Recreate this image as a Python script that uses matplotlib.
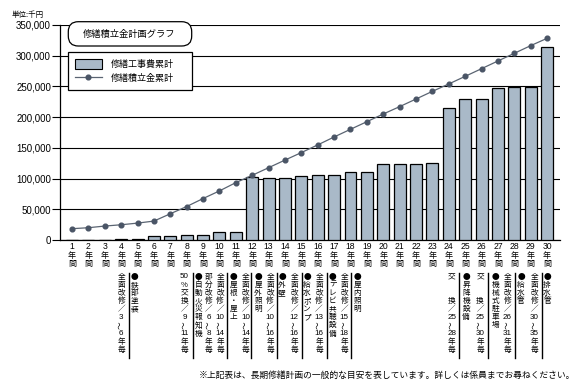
import matplotlib
matplotlib.use("Agg")
import matplotlib.pyplot as plt
from matplotlib.patches import FancyBboxPatch, Patch
from matplotlib.lines import Line2D
from matplotlib import transforms

plt.rcParams['font.family'] = ['Noto Sans CJK JP', 'DejaVu Sans']

# ---------------- data ----------------
years = list(range(1, 31))
repair_cumulative = [0, 0, 0, 1000, 1500, 6000, 6000, 7600, 7600, 13000,
                     13000, 102000, 101500, 101500, 103400, 105300, 105300, 110200, 110200, 123200,
                     123200, 123200, 124800, 214300, 229000, 229000, 246900, 248500, 248500, 313600]
reserve_cumulative = [18400, 20000, 22700, 24800, 27500, 30800, 42700, 54500, 67500, 79900,
                      93400, 105300, 117700, 130100, 142300, 154800, 167700, 180200, 192600, 205100,
                      217100, 229500, 242000, 254000, 266400, 278900, 291400, 303900, 316400, 328300]
yticks = [0, 50000, 100000, 150000, 200000, 250000, 300000, 350000]
title_text = "修繕積立金計画グラフ"
legend_labels = ["修繕工事費累計", "修繕積立金累計"]
unit_text = "単位:千円"
year_suffix = ["年", "間"]
note_text = "※上記表は、長期修繕計画の一般的な目安を表しています。詳しくは係員までお尋ねください。"

annotation_texts = ["全面改修／3〜6年毎", "●鉄部塗装", "50%交換／9〜11年毎", "●自動火災報知機",
                    "部分改修／6〜8年毎", "全面改修／10〜14年毎", "●屋根・屋上", "全面改修／10〜14年毎",
                    "●屋外照明", "全面改修／10〜16年毎", "●外壁", "全面改修／12〜16年毎",
                    "●給水ポンプ", "全面改修／13〜16年毎", "●テレビ共聴設備", "全面改修／15〜18年毎",
                    "●屋内照明", "交　　換／25〜28年毎", "●昇降機設備", "交　　換／25〜30年毎",
                    "●機械式駐車場", "全面改修／26〜31年毎", "●給水管", "全面改修／30〜35年毎", "●排水管"]
annotation_x = [4.0, 4.82, 7.86, 8.73, 9.33, 10.04, 10.87, 11.60, 12.36, 13.09, 13.82, 14.57,
                15.35, 16.08, 16.91, 17.62, 18.40, 24.18, 25.06, 25.91, 26.84, 27.57, 28.41,
                29.22, 30.0]
divider_x = [4.46, 8.37, 10.48, 11.93, 13.50, 15.02, 16.55, 18.01, 24.65, 26.42, 28.05, 29.68]

# ---------------- layout ----------------
W, H = 588, 391
fig = plt.figure(figsize=(W / 100, H / 100), dpi=100)
fig.patch.set_facecolor("white")

def fy(py):
    return 1 - py / H

ax = fig.add_axes([60 / W, fy(240), 500 / W, 215 / H])
bar_color = "#A9B9C8"
line_color = "#5A6472"
dot_color = "#4A5566"

ax.bar(years, repair_cumulative, width=0.73, color=bar_color, edgecolor="black",
       linewidth=0.9, zorder=3)
ax.plot(years, reserve_cumulative, color=line_color, lw=0.9, marker="o", markersize=3.4,
        markerfacecolor=dot_color, markeredgecolor=dot_color, zorder=4)

ax.set_xlim(0.267, 30.79)
ax.set_ylim(0, 350000)
ax.set_yticks(yticks)
ax.set_yticklabels([f"{v:,}" for v in yticks], fontsize=7, family=["Liberation Sans", "DejaVu Sans"])
ax.yaxis.grid(True, color="black", lw=0.8)
ax.set_axisbelow(True)
ax.tick_params(axis="y", length=6, width=0.8, pad=0.5, color="black")
ax.set_xticks(years)
ax.set_xticklabels([])
ax.tick_params(axis="x", length=0)
for s in ["top", "right"]:
    ax.spines[s].set_visible(False)
for s in ["left", "bottom"]:
    ax.spines[s].set_linewidth(0.9)

blend = transforms.blended_transform_factory(ax.transData, fig.transFigure)

# x tick labels (vertical: number / 年 / 間)
for yv in years:
    ax.text(yv, fy(246.7), str(yv), transform=blend, ha="center", va="center",
            fontsize=6.2, family=["Liberation Sans", "DejaVu Sans"])
    for i, ch in enumerate(year_suffix):
        ax.text(yv, fy(255.3 + 8.3 * i), ch, transform=blend, ha="center", va="center",
                fontsize=5.8)

# vertical annotation columns
def tokens(s):
    out, buf = [], ""
    for ch in s:
        if ch.isascii() and ch.isdigit():
            buf += ch
        else:
            if buf:
                out.append(buf)
                buf = ""
            out.append(ch)
    if buf:
        out.append(buf)
    return out

pitch = 8.15
for xv, s in zip(annotation_x, annotation_texts):
    for i, tk in enumerate(tokens(s)):
        if tk == "　":
            continue
        rot = 90 if tk == "〜" else 0
        if tk.isdigit():
            ax.text(xv, fy(276.5 + pitch * i), tk, transform=blend, ha="center", va="center",
                    fontsize=5.8, family=["Liberation Sans", "DejaVu Sans"], clip_on=False)
        else:
            ax.text(xv, fy(276.5 + pitch * i), tk, transform=blend, ha="center", va="center",
                    fontsize=5.5, rotation=rot, clip_on=False)

for xv in divider_x:
    ax.add_line(Line2D([xv, xv], [fy(272.5), fy(358.3)], transform=blend, color="black",
                       lw=1.0, clip_on=False))

# unit label
fig.text(11.5 / W, fy(15), unit_text, fontsize=5.4, ha="left", va="center")

# title box (rounded)
box = FancyBboxPatch((68.3 / 100, (H - 46) / 100), 123.4 / 100, 24.3 / 100,
                     boxstyle="round,pad=0,rounding_size=0.1", transform=fig.dpi_scale_trans,
                     facecolor="white", edgecolor="black", lw=0.9, zorder=5)
fig.patches.append(box)
fig.text(129.5 / W, fy(34.3), title_text, fontsize=6.7, ha="center", va="center", zorder=6)

# legend
handles = [Patch(facecolor=bar_color, edgecolor="black", linewidth=0.8),
           Line2D([], [], color=line_color, lw=0.9, marker="o", markersize=3.4,
                  markerfacecolor=dot_color, markeredgecolor=dot_color)]
leg = ax.legend(handles, legend_labels, loc="upper left", mode="expand",
                bbox_to_anchor=(68.3 / 100, (H - 94.3) / 100, 123.4 / 100, 42 / 100),
                bbox_transform=fig.dpi_scale_trans, borderaxespad=0, fancybox=False,
                edgecolor="black", framealpha=1, fontsize=6.5, handlelength=3.0,
                handleheight=1.35, handletextpad=1.0, labelspacing=0.45, borderpad=0.72)
leg.get_frame().set_linewidth(0.9)
leg.set_zorder(6)

# footnote
fig.text(198.3 / W, fy(375), note_text, fontsize=6.3, ha="left", va="center")

fig.savefig("out.png", dpi=100)
